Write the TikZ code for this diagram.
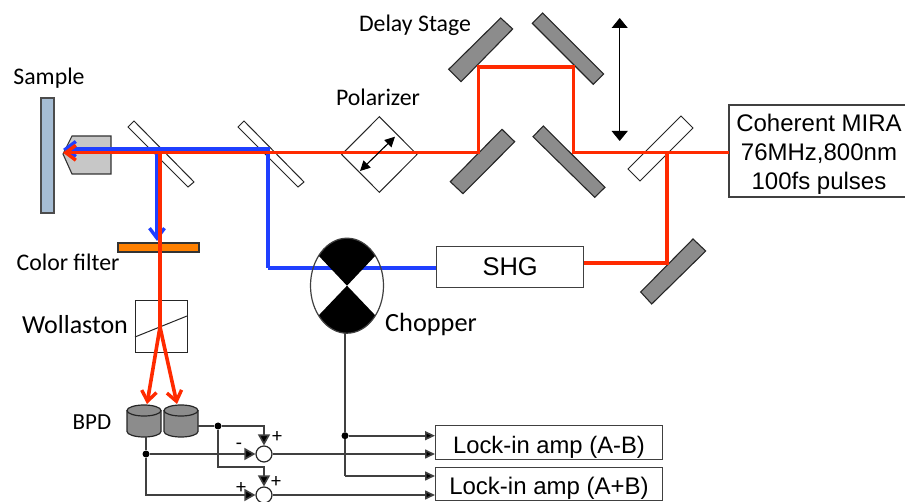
\documentclass[tikz,border=0pt]{standalone}
\usepackage{fontspec}
\setmainfont{Carlito}
\newfontfamily\arialf{Liberation Sans}
\usetikzlibrary{arrows.meta,calc,shapes.geometric}
\definecolor{redbeam}{HTML}{FF2A00}
\definecolor{bluebeam}{HTML}{1F3FFF}
\definecolor{mirrorgray}{HTML}{8C8C8C}
\definecolor{wire}{HTML}{404040}
\definecolor{samplecol}{HTML}{A6BDD4}
\definecolor{filtercol}{HTML}{FF8000}
\tikzset{
  mirror/.style={draw=black!85,fill=mirrorgray,line width=1.1pt,line join=miter},
  splitter/.style={draw=black!85,fill=white,line width=1pt},
  redray/.style={draw=redbeam,line width=3.6pt,line join=miter},
  blueray/.style={draw=bluebeam,line width=3.3pt,line join=miter},
  barb/.style={-{Straight Barb[length=10pt,width=15pt,line width=3.4pt]}},
  wireline/.style={draw=wire,line width=1.6pt,line join=miter},
  wirearrow/.style={wireline,-{Triangle[length=11pt,width=12pt,fill=black]}},
  smallarrow/.style={wireline,-{Triangle[length=10pt,width=9pt,fill=black]}},
  dot/.style={circle,fill=black,draw=none,minimum size=7pt,inner sep=0pt},
  sumnode/.style={circle,draw=black!85,fill=white,line width=1.2pt,minimum size=16pt,inner sep=0pt},
  box/.style={draw=wire,fill=white,line width=1.3pt,inner sep=0pt,anchor=north west},
  lbl/.style={font=\fontsize{23.8}{28}\selectfont,inner sep=0pt},
}
\begin{document}
\begin{tikzpicture}[x=1pt,y=-1pt]
\useasboundingbox (0,0) rectangle (905,502);
% sample and objective
\draw[draw=black!70,fill=samplecol,line width=1.1pt] (41,98) rectangle (54,213);
\draw[draw=black!80,fill=black!22,line width=1.1pt] (72,136) -- (111,136) -- (111,174) -- (72,174) -- (63,154) -- cycle;
% splitters
\draw[splitter] (128,127) -- (134,121) -- (194,182) -- (188,187) -- cycle;
\draw[splitter] (238,127) -- (244,121) -- (304,182) -- (298,187) -- cycle;
\draw[splitter] (681,116) -- (693,128) -- (640,181) -- (628,169) -- cycle;
% mirrors
\draw[mirror] (500.7,18) -- (512.7,29) -- (461,81.7) -- (448.7,69.3) -- cycle;
\draw[mirror] (542.7,13) -- (603.7,74) -- (593.3,84.3) -- (532.3,23.3) -- cycle;
\draw[mirror] (502,129.3) -- (514.7,141.7) -- (463,193.7) -- (450.3,181.7) -- cycle;
\draw[mirror] (543.3,126) -- (605,187.3) -- (594.7,197.3) -- (533,136.7) -- cycle;
\draw[mirror] (693,239) -- (705.7,251) -- (651.7,304) -- (640.7,292) -- cycle;
% polarizer
\draw[draw=black!85,line width=1pt] (379.3,116.7) -- (417,154.5) -- (379.3,192.3) -- (341.7,154.5) -- cycle;
% boxes
\node[box,minimum width=147pt,minimum height=41.5pt,font=\arialf\fontsize{25.5}{30}\selectfont] (shg) at (436,245.7) {SHG};
\draw[draw=wire,line width=1.3pt] (905,105) -- (729,105) -- (729,197) -- (905,197);
\node[inner sep=0pt,align=center,font=\arialf\fontsize{24}{29}\selectfont] (mira) at (819,154) {Coherent MIRA\\76MHz,800nm\\100fs pulses};
\coordinate (miraw) at (729,152.7);
\node[box,minimum width=226.7pt,minimum height=34pt] (ab) at (435,425) {};
\node[inner sep=0pt,font=\arialf\fontsize{23.8}{28}\selectfont,yshift=-5pt] (abtext) at (ab.center) {Lock-in amp (A-B)};
\node[box,minimum width=226.7pt,minimum height=33.3pt] (apb) at (435,466.7) {};
\node[inner sep=0pt,font=\arialf\fontsize{24}{28}\selectfont,yshift=-4pt] (apbtext) at (apb.center) {Lock-in amp (A+B)};
% coordinates of the beam path
\coordinate (obj) at (63,152.7);
\coordinate (bs2) at (268,149);
\coordinate (d1) at (478.3,152.7);
\coordinate (d2) at (478.3,67);
\coordinate (d3) at (573.3,67);
\coordinate (d4) at (573.3,152.7);
\coordinate (bs3) at (667,152.7);
\coordinate (m5) at (667,263);
% blue beams
\draw[blueray] (268,268) -- (bs2) -- (70,149);
\draw[blueray,barb] (157,149) -- (157,241);
\draw[blueray,barb] (100,149) -- (63,149);
% chopper
\node[draw=none,fill=white,ellipse,minimum width=73pt,minimum height=95pt,inner sep=0pt] (chop) at (347,285.7) {};
\draw[blueray] (268,268) -- (shg.west|-0,268);
\begin{scope}
\clip (chop.center) ellipse [x radius=36.5pt,y radius=47.5pt];
\fill[black] (chop.center) -- (300,236) -- (394,236) -- cycle;
\fill[black] (chop.center) -- (300,335) -- (394,335) -- cycle;
\end{scope}
\draw[draw=wire,line width=1.2pt] (chop.center) ellipse [x radius=36.5pt,y radius=47.5pt];
% red beams
\draw[redray] (miraw) -- (bs3);
\draw[redray] (shg.east|-m5) -- (m5) -- (bs3);
\draw[redray] (bs3) -- (d4) -- (d3) -- (d2) -- (d1) -- (160,152.7);
\draw[redray,barb] (111,152.7) -- (obj);
\draw[redray] (111,152.7) -- (160,152.7);
\coordinate (wsplit) at (160,327);
% filter
\draw[draw=black!80,fill=filtercol,line width=1.1pt] (118,243) rectangle (199,252);
% wollaston
\draw[draw=black!85,line width=1pt] (135,301) rectangle (187,353);
\draw[draw=black!85,line width=1pt] (135,337) -- (187,316);
\draw[redray] (160,152.7) -- (wsplit);
\coordinate (dl) at (147,404);
\coordinate (dr) at (177,404);
\draw[redray,barb] (wsplit) -- (dl);
\draw[redray,barb] (wsplit) -- (dr);
% polarizer inner arrow
\draw[draw=black,line width=1.1pt,{Triangle[length=10pt,width=10pt]}-{Triangle[length=10pt,width=10pt]}] (360,171) -- (395,136.7);
% delay arrow
\draw[draw=black,line width=1.1pt,{Triangle[length=10pt,width=16pt]}-{Triangle[length=10pt,width=16pt]}] (619.7,18) -- (619.7,141);
% detectors
\draw[draw=black!85,fill=mirrorgray,line width=1.2pt] (127,410.5) -- (127,431.5) arc[start angle=180,end angle=360,x radius=17pt,y radius=5.5pt] -- (161,410.5);
\draw[draw=black!85,fill=mirrorgray,line width=1.2pt] (144,410.5) ellipse [x radius=17pt,y radius=5.5pt];
\draw[draw=black!85,fill=mirrorgray,line width=1.2pt] (164,410.5) -- (164,431.5) arc[start angle=180,end angle=360,x radius=17pt,y radius=5.5pt] -- (198,410.5);
\draw[draw=black!85,fill=mirrorgray,line width=1.2pt] (181,410.5) ellipse [x radius=17pt,y radius=5.5pt];
\coordinate (cyl1) at (146,437);
\coordinate (cyl2) at (198,426);
% electronics
\node[sumnode] (s1) at (264,454) {};
\node[sumnode] (s2) at (264,495) {};
\node[dot] (j1) at (146,454) {};
\node[dot] (j2) at (218,426) {};
\node[dot] (j3) at (345,435.7) {};
\draw[wirearrow] (cyl2) -- (j2) -- (264,426) -- (s1.north);
\draw[wirearrow] (j2) -- (218,467) -- (264,467) -- (s2.north);
\draw[wireline] (cyl1) -- (j1);
\draw[wirearrow] (j1) -- (s1.west);
\draw[wirearrow] (j1) -- (146,495) -- (s2.west);
\draw[smallarrow] (s1.east) -- (ab.west|-s1);
\draw[smallarrow] (s2.east) -- (apb.west|-s2);
\draw[wireline] (chop.south-|345,0) -- (j3) -- (345,476);
\draw[smallarrow] (345,476) -- (apb.west|-0,476);
\draw[smallarrow] (j3) -- (ab.west|-j3);
% labels
\node[lbl] at (49,78) {Sample};
\node[lbl] at (415,25) {Delay Stage};
\node[lbl] at (378,97) {Polarizer};
\node[lbl] at (68,262) {Color filter};
\node[lbl,font=\fontsize{26}{30}\selectfont] at (75,325) {Wollaston};
\node[lbl,font=\fontsize{23}{28}\selectfont] at (92,422) {BPD};
\node[lbl,font=\fontsize{26.3}{30}\selectfont] at (431,324) {Chopper};
\node[lbl,font=\fontsize{20}{24}\selectfont] at (277,437) {+};
\node[lbl,font=\fontsize{20}{24}\selectfont] at (239,446) {-};
\node[lbl,font=\fontsize{20}{24}\selectfont] at (276,482) {+};
\node[lbl,font=\fontsize{20}{24}\selectfont] at (241,488) {+};
\end{tikzpicture}
\end{document}
